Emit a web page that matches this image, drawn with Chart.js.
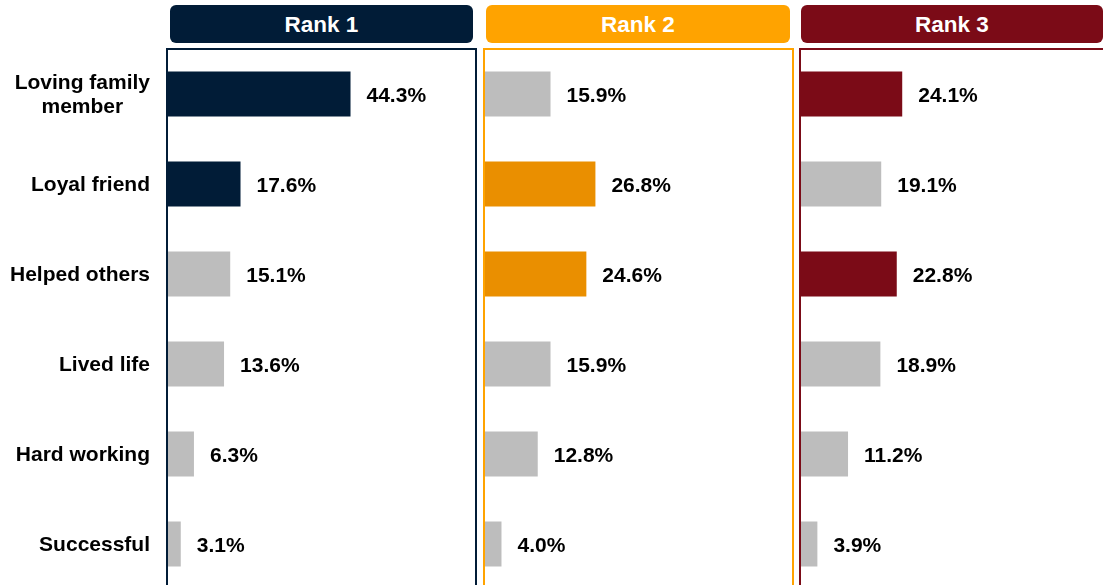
<!DOCTYPE html>
<html>
<head>
<meta charset="utf-8">
<script src="https://cdn.jsdelivr.net/npm/chart.js@4.4.1/dist/chart.umd.min.js"></script>
<style>
  body { margin: 0; width: 1103px; height: 585px; overflow: hidden; background: #fff; position: relative; font-family: "Liberation Sans", Arial, sans-serif; }
  .head { position: absolute; top: 5px; height: 38px; border-radius: 6px; color: #fff; font-weight: bold; font-size: 22.5px; line-height: 39px; text-align: center; }
  canvas { position: absolute; top: 0; }
</style>
</head>
<body>
<div class="head" style="left:170px;width:303px;background:#011C37">Rank 1</div>
<div class="head" style="left:486px;width:304px;background:#FFA300">Rank 2</div>
<div class="head" style="left:801px;width:302px;background:#7B0B17">Rank 3</div>
<canvas id="c1" style="left:0px"></canvas>
<canvas id="c2" style="left:480px"></canvas>
<canvas id="c3" style="left:796px"></canvas>
<script>
const categories = [['Loving family', 'member'], 'Loyal friend', 'Helped others', 'Lived life', 'Hard working', 'Successful'];
const rank1 = [44.3, 17.6, 15.1, 13.6, 6.3, 3.1];
const rank2 = [15.9, 26.8, 24.6, 15.9, 12.8, 4.0];
const rank3 = [24.1, 19.1, 22.8, 18.9, 11.2, 3.9];
const highlight1 = [true, true, false, false, false, false];
const highlight2 = [false, true, true, false, false, false];
const highlight3 = [true, false, true, false, false, false];

const gray = '#BDBDBD';
const font = '"Liberation Sans", Arial, sans-serif';

const panelPlugin = {
  id: 'panel',
  afterDatasetsDraw(chart, args, opts) {
    const ctx = chart.ctx;
    const a = chart.chartArea;
    const meta = chart.getDatasetMeta(0);
    ctx.save();
    // box border
    ctx.strokeStyle = opts.border;
    ctx.lineWidth = 2;
    ctx.beginPath();
    ctx.moveTo(a.left - 1, 48);
    ctx.lineTo(a.left - 1, chart.height);
    ctx.moveTo(a.left - 1, 49);
    ctx.lineTo(a.right - 1, 49);
    ctx.lineTo(a.right - 1, chart.height);
    ctx.stroke();
    // value labels
    ctx.fillStyle = '#000';
    ctx.font = 'bold 21px ' + font;
    ctx.textAlign = 'left';
    ctx.textBaseline = 'middle';
    meta.data.forEach((bar, i) => {
      const v = chart.data.datasets[0].data[i];
      ctx.fillText(v.toFixed(1) + '%', bar.x + 16, bar.y + 2);
    });
    // category labels
    if (opts.labels) {
      const y = chart.scales.y;
      ctx.textAlign = 'center';
      categories.forEach((c, i) => {
        const lines = Array.isArray(c) ? c : [c];
        const w = Math.max(...lines.map(l => ctx.measureText(l).width));
        const cx = 150 - w / 2;
        const cy = y.getPixelForValue(i);
        lines.forEach((l, j) => {
          ctx.fillText(l, cx, cy + (j - (lines.length - 1) / 2) * 24 + 1);
        });
      });
    }
    ctx.restore();
  }
};

function makeChart(id, width, values, hi, color, border, padLeft, yWidth, labels) {
  const canvas = document.getElementById(id);
  canvas.width = width;
  canvas.height = 600;
  canvas.style.width = width + 'px';
  canvas.style.height = '600px';
  new Chart(canvas, {
    type: 'bar',
    data: {
      labels: categories.map(c => Array.isArray(c) ? c.join(' ') : c),
      datasets: [{
        data: values,
        backgroundColor: hi.map(h => h ? color : gray),
        categoryPercentage: 1,
        barPercentage: 0.5,
        borderWidth: 0
      }]
    },
    options: {
      indexAxis: 'y',
      responsive: false,
      animation: false,
      devicePixelRatio: 1,
      layout: { padding: { top: 49, bottom: 11, left: padLeft, right: 0 } },
      scales: {
        x: { display: false, min: 0, max: 75 },
        y: {
          display: yWidth > 0,
          grid: { display: false },
          border: { display: false },
          ticks: { display: false },
          afterFit: s => { s.width = yWidth; }
        }
      },
      plugins: {
        legend: { display: false },
        tooltip: { enabled: false },
        panel: { border: border, labels: labels }
      }
    },
    plugins: [panelPlugin]
  });
}

makeChart('c1', 477, rank1, highlight1, '#011C37', '#011C37', 0, 168, true);
makeChart('c2', 314, rank2, highlight2, '#EA8F00', '#FFA300', 5, 0, false);
makeChart('c3', 320, rank3, highlight3, '#7B0B17', '#7B0B17', 5, 0, false);
</script>
</body>
</html>
